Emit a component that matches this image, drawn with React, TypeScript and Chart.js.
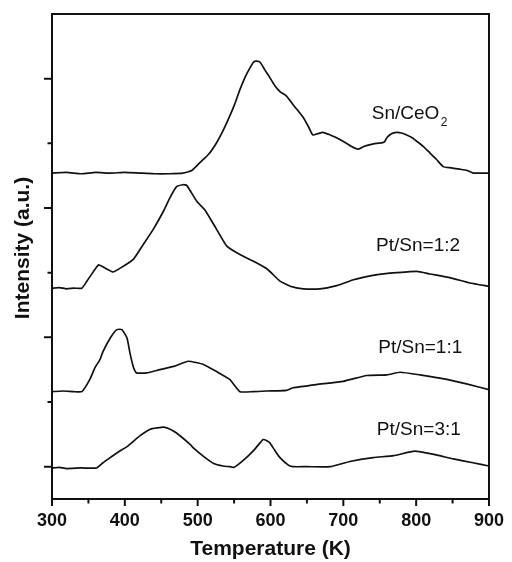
import React, { useEffect, useRef } from "react";
import { Chart, registerables } from "chart.js";

Chart.register(...registerables);

// Axis ticks
const temperatureTicks = [300, 400, 500, 600, 700, 800, 900];
const minorTemperatureTicks = [350, 450, 550, 650, 750, 850];
const intensityMajorTicks = [0, 2, 4, 6];
const intensityMinorTicks = [1, 3, 5];

// Series: [temperature (K), intensity (a.u., stacked offset included)]
const snCeO2: [number, number][] = [
  [300, 4.54], [320, 4.55], [340, 4.53], [360, 4.55], [380, 4.54], [400, 4.55], [420, 4.54],
  [440, 4.53], [460, 4.53], [480, 4.54], [492, 4.58], [503, 4.70], [515, 4.83], [526, 5.01],
  [535, 5.20], [544, 5.42], [551, 5.61], [558, 5.83], [565, 6.02], [572, 6.17], [577, 6.26],
  [581, 6.27], [586, 6.25], [592, 6.14], [599, 6.02], [606, 5.89], [613, 5.80], [622, 5.73],
  [633, 5.57], [645, 5.40], [652, 5.26], [658, 5.13], [665, 5.15], [672, 5.17], [682, 5.13],
  [690, 5.09], [700, 5.03], [710, 4.96], [720, 4.91], [728, 4.95], [737, 4.98], [745, 5.00],
  [754, 5.01], [757, 5.03], [760, 5.09], [766, 5.15], [773, 5.17], [780, 5.16], [787, 5.13],
  [794, 5.09], [801, 5.03], [810, 4.95], [819, 4.85], [828, 4.75], [837, 4.64], [848, 4.62],
  [860, 4.60], [870, 4.58], [878, 4.54], [890, 4.54], [900, 4.54],
];

const ptSn12: [number, number][] = [
  [300, 2.76], [310, 2.77], [320, 2.75], [330, 2.76], [341, 2.76], [348, 2.87], [357, 3.02],
  [364, 3.12], [373, 3.07], [384, 3.01], [398, 3.10], [412, 3.21], [425, 3.43], [439, 3.67],
  [453, 3.95], [462, 4.16], [471, 4.33], [480, 4.36], [485, 4.35], [499, 4.10], [510, 3.97],
  [526, 3.67], [540, 3.41], [558, 3.28], [576, 3.18], [595, 3.06], [613, 2.87], [627, 2.79],
  [645, 2.75], [668, 2.75], [691, 2.80], [714, 2.89], [737, 2.95], [755, 2.98], [773, 3.00],
  [801, 3.02], [819, 2.98], [847, 2.92], [874, 2.84], [900, 2.79],
];

const ptSn11: [number, number][] = [
  [300, 1.16], [315, 1.17], [330, 1.16], [341, 1.16], [352, 1.35], [359, 1.53], [366, 1.66],
  [370, 1.78], [380, 1.99], [389, 2.12], [396, 2.12], [403, 1.99], [407, 1.76], [412, 1.53],
  [416, 1.45], [430, 1.45], [448, 1.50], [467, 1.55], [487, 1.63], [508, 1.58], [526, 1.47],
  [544, 1.35], [558, 1.16], [576, 1.16], [595, 1.17], [622, 1.18], [631, 1.22], [663, 1.27],
  [700, 1.32], [732, 1.41], [760, 1.42], [778, 1.46], [805, 1.42], [842, 1.35], [869, 1.28],
  [900, 1.19],
];

const ptSn31: [number, number][] = [
  [300, -0.02], [310, -0.01], [320, -0.03], [340, -0.02], [361, -0.02], [370, 0.06], [380, 0.14],
  [390, 0.22], [403, 0.31], [421, 0.48], [435, 0.58], [445, 0.60], [453, 0.61], [460, 0.59],
  [471, 0.52], [490, 0.34], [494, 0.29], [508, 0.16], [522, 0.05], [535, 0.01], [544, 0.0],
  [550, -0.01], [563, 0.10], [576, 0.24], [585, 0.36], [590, 0.42], [595, 0.40], [599, 0.37],
  [606, 0.25], [613, 0.14], [625, 0.02], [631, 0.0], [650, 0.0], [682, 0.0], [709, 0.08],
  [741, 0.14], [769, 0.17], [798, 0.24], [824, 0.19], [851, 0.12], [878, 0.06], [900, 0.01],
];

const seriesNames = ["Sn/CeO2", "Pt/Sn=1:2", "Pt/Sn=1:1", "Pt/Sn=3:1"];
const seriesData = [snCeO2, ptSn12, ptSn11, ptSn31];

// Curve labels (anchored in data coordinates)
const curveLabels = [
  { text: "Sn/CeO", sub: "2", t: 739, v: 5.38 },
  { text: "Pt/Sn=1:2", sub: "", t: 745, v: 3.33 },
  { text: "Pt/Sn=1:1", sub: "", t: 748, v: 1.76 },
  { text: "Pt/Sn=3:1", sub: "", t: 746, v: 0.49 },
];

const FONT = '"Liberation Sans", Arial, Helvetica, sans-serif';
const INK = "#111";

const framePlugin = {
  id: "frameTicksLabels",
  afterDraw(chart: any) {
    const { ctx, chartArea: a, scales } = chart;
    const xs = scales.x;
    const ys = scales.y;
    ctx.save();
    ctx.strokeStyle = INK;
    ctx.lineWidth = 2;
    ctx.strokeRect(a.left, a.top, a.right - a.left, a.bottom - a.top);
    ctx.beginPath();
    for (const t of temperatureTicks) {
      const px = xs.getPixelForValue(t);
      ctx.moveTo(px, a.bottom);
      ctx.lineTo(px, a.bottom + 7);
    }
    for (const t of minorTemperatureTicks) {
      const px = xs.getPixelForValue(t);
      ctx.moveTo(px, a.bottom);
      ctx.lineTo(px, a.bottom + 4.5);
    }
    for (const v of intensityMajorTicks) {
      const py = ys.getPixelForValue(v);
      ctx.moveTo(a.left, py);
      ctx.lineTo(a.left - 8, py);
    }
    for (const v of intensityMinorTicks) {
      const py = ys.getPixelForValue(v);
      ctx.moveTo(a.left, py);
      ctx.lineTo(a.left - 4.5, py);
    }
    ctx.stroke();

    ctx.fillStyle = INK;
    ctx.textAlign = "left";
    ctx.textBaseline = "alphabetic";
    for (const l of curveLabels) {
      const px = xs.getPixelForValue(l.t);
      const py = ys.getPixelForValue(l.v);
      ctx.font = `19px ${FONT}`;
      ctx.fillText(l.text, px, py);
      if (l.sub) {
        const w = ctx.measureText(l.text).width;
        ctx.font = `12px ${FONT}`;
        ctx.fillText(l.sub, px + w + 1.5, py + 7);
      }
    }

    ctx.translate(23, 248);
    ctx.rotate(-Math.PI / 2);
    ctx.font = `bold 21px ${FONT}`;
    ctx.textAlign = "center";
    ctx.textBaseline = "middle";
    ctx.fillText("Intensity (a.u.)", 0, 0);
    ctx.restore();
  },
};

export default function App() {
  const canvasRef = useRef<HTMLCanvasElement | null>(null);

  useEffect(() => {
    document.body.style.margin = "0";
    const canvas = canvasRef.current;
    if (!canvas) return;
    const chart = new Chart(canvas, {
      type: "line",
      data: {
        datasets: seriesData.map((s, i) => ({
          label: seriesNames[i],
          data: s.map(([t, v]) => ({ x: t, y: v })),
          borderColor: INK,
          borderWidth: 1.7,
          pointRadius: 0,
          tension: 0.15,
          fill: false,
        })),
      },
      options: {
        animation: false,
        responsive: false,
        maintainAspectRatio: false,
        events: [],
        layout: { padding: { top: 14, right: 23, left: 0, bottom: 0 } },
        plugins: {
          legend: { display: false },
          tooltip: { enabled: false },
          title: { display: false },
        },
        scales: {
          x: {
            type: "linear",
            min: 300,
            max: 900,
            grid: { display: false, drawTicks: true, tickLength: 11 },
            border: { display: false },
            ticks: {
              stepSize: 100,
              autoSkip: false,
              maxRotation: 0,
              padding: 0,
              color: INK,
              font: { family: FONT, size: 18, weight: "bold" },
            },
            title: {
              display: true,
              text: "Temperature (K)",
              color: INK,
              font: { family: FONT, size: 21, weight: "bold" },
              padding: { top: 0, bottom: 0 },
            },
            afterFit: (scale: any) => {
              scale.height = 63;
              scale.paddingLeft = 0;
              scale.paddingRight = 0;
            },
          },
          y: {
            type: "linear",
            min: -0.5,
            max: 7,
            grid: { display: false, drawTicks: false, tickLength: 0 },
            border: { display: false },
            ticks: { display: false, stepSize: 1 },
            title: { display: false },
            afterFit: (scale: any) => {
              scale.width = 52;
            },
          },
        },
      },
      plugins: [framePlugin],
    });
    return () => chart.destroy();
  }, []);

  return (
    <div style={{ width: 512, height: 562 }}>
      <canvas ref={canvasRef} width={512} height={562} style={{ display: "block" }} />
    </div>
  );
}
